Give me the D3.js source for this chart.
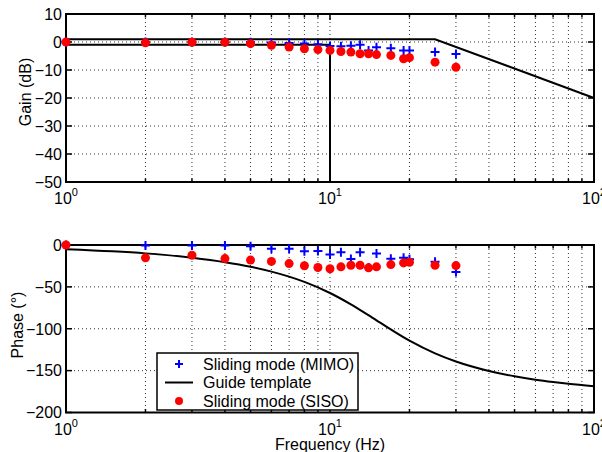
<!DOCTYPE html>
<html><head><meta charset="utf-8">
<script src="https://cdn.jsdelivr.net/npm/d3@7"></script>
<style>body{margin:0;background:#fff} svg text{font-family:"Liberation Sans",Arial,Helvetica,sans-serif;fill:#000}</style>
</head><body><svg id="c" width="602" height="452"></svg>
<script>
// ---- data ----
const freqs = [1,2,3,4,5,6,7,8,9,10,11,12,13,14,15,17,19,20,25,30];
const gainMIMO = [0,0,0,0,-0.1,-0.2,-0.4,-0.5,-0.8,-1.4,-1.5,-1.3,-1.0,-3.0,-1.9,-2.2,-3.0,-3.0,-3.6,-4.3];
const gainSISO = [0,-0.3,-0.1,-0.1,-0.6,-1.2,-1.8,-2.4,-2.7,-3.0,-3.4,-3.6,-4.2,-4.2,-4.5,-4.8,-6.0,-5.6,-7.2,-9.0];
const phaseMIMO = [0,-0.6,-0.6,-0.6,-1.6,-4.5,-4.6,-7.6,-7.2,-11.2,-8.8,-16.8,-8.8,-27,-10.2,-16.5,-15.3,-17,-20.1,-32.1];
const phaseSISO = [0,-15.3,-12.2,-16.2,-18,-19.6,-22.2,-24.8,-26.8,-28.3,-26.1,-24.2,-24.2,-27.3,-26.1,-23.4,-21.4,-20.6,-24.2,-24.6];
const guideUpperF = [1,25,100];
const guideUpperG = [1,1,-20];
const guideLowerF = [1,10,10];
const guideLowerG = [-1,-1,-50];
const guidePhaseF = [1,1.5,2,3,4,5,6,7,8,10,12,15,20,25,30,40,50,60,70,80,100];
const guidePhase = [-5,-7.5,-10,-15.2,-20.5,-26,-31.8,-37.8,-44.1,-57.3,-70.9,-90,-114.2,-129.4,-139.1,-150.4,-156.8,-160.9,-163.7,-165.8,-168.7];
const freqTicks = [1,10,100];
const freqTickExp = ["0","1","2"];
const gainTicks = [10,0,-10,-20,-30,-40,-50];
const phaseTicks = [0,-50,-100,-150,-200];
const legendLabels = ["Sliding mode (MIMO)","Guide template","Sliding mode (SISO)"];

// ---- drawing ----
const svg = d3.select("#c");
const X0 = 66, X1 = 594;
const FS = 16;
const x = d3.scaleLog().domain([1,100]).range([X0,X1]);
const minorF = [];
for (const dec of [1,10]) for (let k=1;k<10;k++) minorF.push(dec*k);
minorF.push(100);

function panel(top, bottom, ydom, yticks, ylabel, labelX, labelY) {
  const y = d3.scaleLinear().domain(ydom).range([bottom, top]);
  const g = svg.append("g");
  g.selectAll(".vg").data(minorF.filter(f=>f>1&&f<100)).join("line")
    .attr("x1",d=>x(d)).attr("x2",d=>x(d)).attr("y1",top).attr("y2",bottom)
    .attr("stroke","#333").attr("stroke-width",1).attr("stroke-dasharray","1,3");
  g.selectAll(".hg").data(yticks.filter(t=>t>ydom[0]&&t<ydom[1])).join("line")
    .attr("x1",X0).attr("x2",X1).attr("y1",d=>y(d)).attr("y2",d=>y(d))
    .attr("stroke","#333").attr("stroke-width",1).attr("stroke-dasharray","1,3");
  const tk = g.append("g").attr("stroke","#000").attr("stroke-width",1.5);
  minorF.forEach(f=>{
    const L = freqTicks.includes(f) ? 6 : 3.5;
    tk.append("line").attr("x1",x(f)).attr("x2",x(f)).attr("y1",bottom).attr("y2",bottom-L);
    tk.append("line").attr("x1",x(f)).attr("x2",x(f)).attr("y1",top).attr("y2",top+L);
  });
  yticks.forEach(t=>{
    tk.append("line").attr("x1",X0).attr("x2",X0+6).attr("y1",y(t)).attr("y2",y(t));
    tk.append("line").attr("x1",X1).attr("x2",X1-6).attr("y1",y(t)).attr("y2",y(t));
  });
  g.append("rect").attr("x",X0).attr("y",top).attr("width",X1-X0).attr("height",bottom-top)
    .attr("fill","none").attr("stroke","#000").attr("stroke-width",2);
  g.selectAll(".yl").data(yticks).join("text")
    .attr("x",X0-4).attr("y",d=>y(d)).attr("dy","0.36em").attr("text-anchor","end")
    .attr("font-size",FS).text(d=>d<0?"\u2212"+Math.abs(d):String(d));
  freqTicks.forEach((f,i)=>{
    const t = g.append("text").attr("x",x(f)).attr("y",bottom+22).attr("text-anchor","middle").attr("font-size",FS);
    t.append("tspan").text("10");
    t.append("tspan").attr("dy",-8).attr("font-size",11).text(freqTickExp[i]);
  });
  g.append("text").attr("transform",`translate(${labelX},${labelY}) rotate(-90)`)
    .attr("text-anchor","middle").attr("font-size",FS).text(ylabel);
  return y;
}

const yG = panel(14, 182, [-50,10], gainTicks, "Gain (dB)", 31, 92);
const yP = panel(245, 412.5, [-200,0], phaseTicks, "Phase (\u00B0)", 23, 325);

svg.append("text").attr("x",(X0+X1)/2).attr("y",450).attr("text-anchor","middle")
  .attr("font-size",FS).text("Frequency (Hz)");

function plus(sel, xs, ys) {
  const p = d3.path();
  xs.forEach((f,i)=>{
    const cx = x(f), cy = ys(i);
    p.moveTo(cx-4.5,cy); p.lineTo(cx+4.5,cy); p.moveTo(cx,cy-4.5); p.lineTo(cx,cy+4.5);
  });
  sel.append("path").attr("d",p.toString()).attr("stroke","#0000ff").attr("stroke-width",2).attr("fill","none");
}

const lineG = d3.line().x(d=>x(d[0])).y(d=>yG(d[1]));
svg.append("path").attr("d",lineG(guideUpperF.map((f,i)=>[f,guideUpperG[i]])))
  .attr("fill","none").attr("stroke","#000").attr("stroke-width",2);
svg.append("path").attr("d",lineG(guideLowerF.map((f,i)=>[f,guideLowerG[i]])))
  .attr("fill","none").attr("stroke","#000").attr("stroke-width",2);
plus(svg, freqs, i=>yG(gainMIMO[i]));
svg.append("g").selectAll("circle").data(freqs).join("circle")
  .attr("cx",d=>x(d)).attr("cy",(d,i)=>yG(gainSISO[i])).attr("r",4.5).attr("fill","#ff0000");

const lineP = d3.line().x(d=>x(d[0])).y(d=>yP(d[1])).curve(d3.curveMonotoneX);
svg.append("path").attr("d",lineP(guidePhaseF.map((f,i)=>[f,guidePhase[i]])))
  .attr("fill","none").attr("stroke","#000").attr("stroke-width",2);
plus(svg, freqs, i=>yP(phaseMIMO[i]));
svg.append("g").selectAll("circle").data(freqs).join("circle")
  .attr("cx",d=>x(d)).attr("cy",(d,i)=>yP(phaseSISO[i])).attr("r",4.5).attr("fill","#ff0000");

const lg = svg.append("g");
lg.append("rect").attr("x",157).attr("y",353).attr("width",201).attr("height",57)
  .attr("fill","#fff").attr("stroke","#000").attr("stroke-width",1.5);
const rows = [364, 382.5, 401];
lg.append("path").attr("d",`M175,${rows[0]}h8M179,${rows[0]-4}v8`).attr("stroke","#0000ff").attr("stroke-width",2);
lg.append("line").attr("x1",165).attr("x2",193).attr("y1",rows[1]).attr("y2",rows[1]).attr("stroke","#000").attr("stroke-width",2);
lg.append("circle").attr("cx",179).attr("cy",rows[2]).attr("r",4).attr("fill","#ff0000");
legendLabels.forEach((s,i)=>{
  lg.append("text").attr("x",203).attr("y",rows[i]).attr("dy","0.36em").attr("font-size",FS).text(s);
});
</script></body></html>
